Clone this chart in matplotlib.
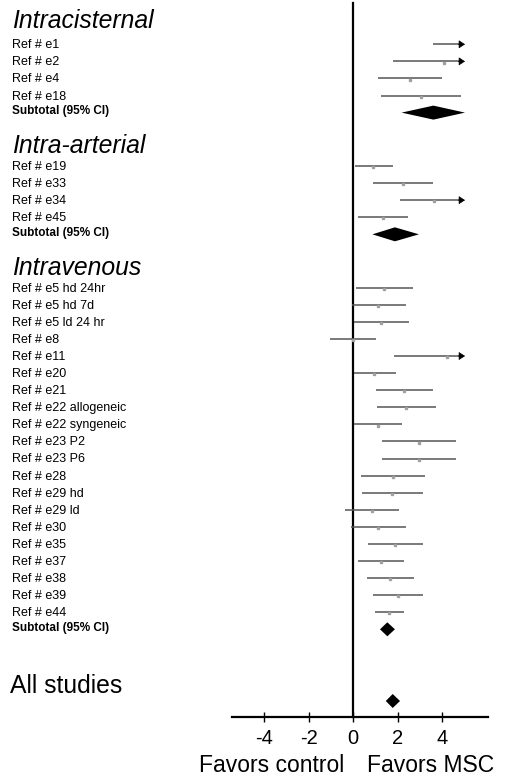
import matplotlib
matplotlib.use("Agg")
import matplotlib.pyplot as plt

plt.rcParams['font.family'] = ['Liberation Sans', 'DejaVu Sans']
plt.rcParams['axes.unicode_minus'] = False

# ---------------- data ----------------
group_titles = ["Intracisternal", "Intra-arterial", "Intravenous"]

ic_labels = ["Ref # e1", "Ref # e2", "Ref # e4", "Ref # e18"]
ic_lo = [3.57, 1.77, 1.12, 1.24]
ic_est = [5.60, 4.08, 2.55, 3.04]
ic_hi = [7.60, 6.40, 3.97, 4.84]
ic_sub = [2.17, 3.60, 5.02]

ia_labels = ["Ref # e19", "Ref # e33", "Ref # e34", "Ref # e45"]
ia_lo = [0.08, 0.90, 2.10, 0.22]
ia_est = [0.90, 2.22, 3.64, 1.32]
ia_hi = [1.80, 3.57, 5.20, 2.47]
ia_sub = [0.86, 1.87, 2.95]

iv_labels = ["Ref # e5 hd 24hr", "Ref # e5 hd 7d", "Ref # e5 ld 24 hr", "Ref # e8",
             "Ref # e11", "Ref # e20", "Ref # e21", "Ref # e22 allogeneic",
             "Ref # e22 syngeneic", "Ref # e23 P2", "Ref # e23 P6", "Ref # e28",
             "Ref # e29 hd", "Ref # e29 ld", "Ref # e30", "Ref # e35", "Ref # e37",
             "Ref # e38", "Ref # e39", "Ref # e44"]
iv_lo = [0.12, -0.07, 0.03, -1.05, 1.84, 0.03, 1.02, 1.05, 0.03, 1.27,
         1.27, 0.35, 0.39, -0.36, -0.09, 0.65, 0.20, 0.62, 0.90, 0.97]
iv_est = [1.39, 1.12, 1.23, -0.01, 4.20, 0.95, 2.29, 2.37, 1.12, 2.95,
          2.95, 1.77, 1.75, 0.84, 1.12, 1.89, 1.23, 1.66, 2.02, 1.62]
iv_hi = [2.67, 2.35, 2.52, 1.02, 6.60, 1.92, 3.57, 3.70, 2.19, 4.62,
         4.62, 3.22, 3.12, 2.07, 2.35, 3.15, 2.27, 2.71, 3.15, 2.29]
iv_sub = [1.20, 1.53, 1.87]

all_studies = [1.46, 1.77, 2.10]

x_ticks = [-4, -2, 0, 2, 4]
subtotal_label = "Subtotal (95% CI)"
overall_label = "All studies"
favors_left = "Favors control"
favors_right = "Favors MSC"

# ---------------- layout ----------------
W, H = 505, 780
X0_PX, PX_PER_UNIT = 353.3, 22.25
CLIP = 5.02
AXIS_Y = 716.7
STEP = 17.08
header_y = [20.7, 146.0, 268.0]
row_start = [44.3, 166.0, 287.7]
LABEL_X = 12 / W
DIAMOND_H = 7.0

LINE_COLOR = "#555555"
POINT_COLOR = "#a0a0a0"

fig = plt.figure(figsize=(W / 100, H / 100), dpi=100)
ax = fig.add_axes([0, 0, 1, 1])
ax.set_xlim(-X0_PX / PX_PER_UNIT, (W - X0_PX) / PX_PER_UNIT)
ax.set_ylim(H, 0)

ax.spines['top'].set_visible(False)
ax.spines['right'].set_visible(False)
ax.spines['left'].set_position(('data', 0))
ax.spines['left'].set_bounds(3, AXIS_Y)
ax.spines['left'].set_linewidth(1.6)
ax.spines['bottom'].set_position(('data', AXIS_Y))
ax.spines['bottom'].set_bounds(-5.47, 6.05)
ax.spines['bottom'].set_linewidth(1.6)
ax.set_yticks([])
ax.set_xticks(x_ticks)
ax.set_xticklabels([str(t) for t in x_ticks])
ax.tick_params(axis='x', direction='inout', length=7, width=1.0, pad=5,
               labelsize=14.5, colors='black')

ytf = ax.get_yaxis_transform()


def diamond(lo, est, hi, y):
    ax.fill([lo, est, hi, est], [y, y - DIAMOND_H, y, y + DIAMOND_H],
            color='black', lw=0, zorder=4)


def study(lo, est, hi, y):
    right = min(hi, CLIP)
    if hi > CLIP:
        ax.plot([lo, right - 0.2], [y, y], color=LINE_COLOR, lw=1.1,
                solid_capstyle='butt', zorder=3)
        ax.annotate('', xy=(CLIP, y), xytext=(CLIP - 0.3, y),
                    arrowprops=dict(arrowstyle='-|>,head_length=0.38,head_width=0.25',
                                    color='black', lw=0.5, mutation_scale=10,
                                    shrinkA=0, shrinkB=0), zorder=5)
    else:
        ax.plot([lo, right], [y, y], color=LINE_COLOR, lw=1.1,
                solid_capstyle='butt', zorder=3)
    if est <= CLIP:
        ax.plot([est], [y + 1.2], marker='s', ms=1.8, color=POINT_COLOR,
                ls='none', zorder=4)


groups = [
    (ic_labels, ic_lo, ic_est, ic_hi, ic_sub),
    (ia_labels, ia_lo, ia_est, ia_hi, ia_sub),
    (iv_labels, iv_lo, iv_est, iv_hi, iv_sub),
]

for g, (labels, lo, est, hi, sub) in enumerate(groups):
    ax.text(LABEL_X, header_y[g], group_titles[g], transform=ytf,
            ha='left', va='center', fontsize=17.8, style='italic')
    for i, lab in enumerate(labels):
        y = row_start[g] + i * STEP
        ax.text(LABEL_X, y + 1, lab, transform=ytf, ha='left', va='center',
                fontsize=9)
        study(lo[i], est[i], hi[i], y)
    y_sub = row_start[g] + len(labels) * STEP
    ax.text(LABEL_X, y_sub - 1.5, subtotal_label, transform=ytf, ha='left',
            va='center', fontsize=8.5, fontweight='bold')
    diamond(sub[0], sub[1], sub[2], y_sub)

ax.text(10 / W, 686, overall_label, transform=ytf, ha='left', va='center',
        fontsize=17.8)
diamond(all_studies[0], all_studies[1], all_studies[2], 701)

ax.text(-0.4, 765, favors_left, ha='right', va='center', fontsize=16.5)
ax.text(0.6, 765, favors_right, ha='left', va='center', fontsize=16.5)

fig.savefig("out.png", dpi=100, facecolor='white')
